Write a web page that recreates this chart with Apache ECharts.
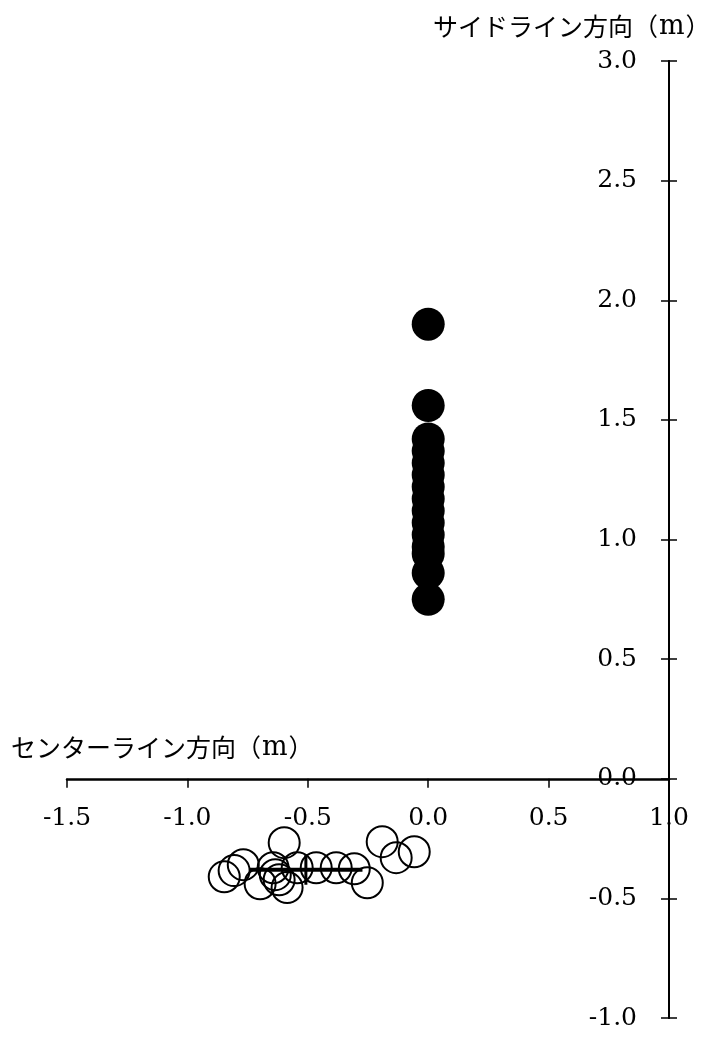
<!DOCTYPE html>
<html>
<head>
<meta charset="utf-8">
<script src="https://cdn.jsdelivr.net/npm/echarts@6/dist/echarts.min.js"></script>
<style>
  html, body { margin: 0; padding: 0; background: #fff; }
  #chart { width: 701px; height: 1039px; }
</style>
</head>
<body>
<div id="chart"></div>
<script>
// Landing positions along the sideline direction (filled circles)
const sidelineX = [0.0, 0.0, 0.0, 0.0, 0.0, 0.0, 0.0, 0.0, 0.0, 0.0, 0.0, 0.0, 0.0, 0.0, 0.0];
const sidelineY = [1.90, 1.56, 1.42, 1.37, 1.32, 1.27, 1.22, 1.17, 1.12, 1.07, 1.02, 0.97, 0.94, 0.86, 0.75];

// Landing positions along the centerline direction (open circles)
const centerX = [-0.847, -0.806, -0.768, -0.698, -0.598, -0.644, -0.635, -0.619, -0.586,
                 -0.544, -0.465, -0.382, -0.307, -0.253, -0.191, -0.133, -0.058];
const centerY = [-0.410, -0.384, -0.359, -0.439, -0.267, -0.372, -0.401, -0.422, -0.455,
                 -0.372, -0.372, -0.372, -0.376, -0.435, -0.263, -0.330, -0.305];

// Mean and standard deviation of the centerline group [x, y]
const centerMean = [-0.508, -0.380];
const centerSD = [0.235, 0.063];

// Axis ranges
const xRange = [-1.5, 1.0];
const yRange = [-1.0, 3.0];
const tickStep = 0.5;

const yTitle = 'サイドライン方向';
const xTitle = 'センターライン方向';
const unitOpen = '（', unitName = 'm', unitClose = '）';

const serif = '"DejaVu Serif", "Liberation Serif", serif';
const sans = '"Noto Sans CJK JP", "Noto Sans", sans-serif';

const zip = (xs, ys) => xs.map((x, i) => [x, ys[i]]);

const gridTop = 61, gridBottom = 21;
const chartHeight = 1039;
const plotHeight = chartHeight - gridTop - gridBottom;
// distance from the bottom edge of the plot up to y = 0, so the x axis sits on the zero line
const zeroLift = plotHeight * (0 - yRange[0]) / (yRange[1] - yRange[0]);

const chart = echarts.init(document.getElementById('chart'), null, { renderer: 'canvas' });

const labelFmt = v => (Math.abs(v) < 1e-9 ? 0 : v).toFixed(1);

const yBase = {
  type: 'value',
  min: yRange[0],
  max: yRange[1],
  interval: tickStep,
  position: 'right',
  splitLine: { show: false },
  axisLine: { show: true, onZero: false, lineStyle: { color: '#000', width: 2 } }
};

const titleRich = {
  k: { fontFamily: sans, fontSize: 25, color: '#000' },
  p: { fontFamily: sans, fontSize: 25, color: '#000' },
  m: { fontFamily: serif, fontSize: 27, color: '#000', padding: [0, 1, 0, 1] }
};
const titleText = name => '{k|' + name + '}{p|' + unitOpen + '}{m|' + unitName + '}{p|' + unitClose + '}';

chart.setOption({
  animation: false,
  backgroundColor: '#fff',
  grid: {
    left: 67, right: 32, top: gridTop, bottom: gridBottom,
    containLabel: false, outerBoundsMode: 'none'
  },
  xAxis: {
    type: 'value',
    min: xRange[0],
    max: xRange[1],
    interval: tickStep,
    position: 'bottom',
    offset: -zeroLift,
    splitLine: { show: false },
    axisLine: { show: true, onZero: false, lineStyle: { color: '#000', width: 2.5 } },
    axisTick: { show: true, inside: false, length: 9, lineStyle: { color: '#000', width: 1.5 } },
    axisLabel: {
      show: true, margin: 27, formatter: labelFmt,
      fontFamily: serif, fontSize: 25, color: '#000'
    }
  },
  yAxis: [
    Object.assign({}, yBase, {
      axisTick: { show: true, inside: true, length: 8, lineStyle: { color: '#000', width: 1.5 } },
      axisLabel: {
        show: true, inside: true, margin: 32, formatter: labelFmt,
        fontFamily: serif, fontSize: 25, color: '#000'
      }
    }),
    Object.assign({}, yBase, {
      axisTick: { show: true, inside: false, length: 8, lineStyle: { color: '#000', width: 1.5 } },
      axisLabel: { show: false }
    })
  ],
  graphic: [
    {
      type: 'text', left: 433, top: 13,
      style: { text: titleText(yTitle), rich: titleRich }
    },
    {
      type: 'text', left: 11, top: 734,
      style: { text: titleText(xTitle), rich: titleRich }
    }
  ],
  series: [
    {
      type: 'scatter',
      yAxisIndex: 0,
      data: zip(centerX, centerY),
      symbol: 'circle',
      symbolSize: 31,
      itemStyle: { color: 'rgba(0,0,0,0)', borderColor: '#000', borderWidth: 2, opacity: 1 },
      z: 3
    },
    {
      // horizontal spread (±1 SD in x)
      type: 'line',
      yAxisIndex: 0,
      data: [
        [centerMean[0] - centerSD[0], centerMean[1]],
        [centerMean[0] + centerSD[0], centerMean[1]]
      ],
      showSymbol: false,
      symbol: 'none',
      lineStyle: { color: '#000', width: 4 },
      z: 4
    },
    {
      // vertical spread (±1 SD in y)
      type: 'line',
      yAxisIndex: 0,
      data: [
        [centerMean[0], centerMean[1] - centerSD[1]],
        [centerMean[0], centerMean[1] + centerSD[1]]
      ],
      showSymbol: false,
      symbol: 'none',
      lineStyle: { color: '#000', width: 3 },
      z: 4
    },
    {
      type: 'scatter',
      yAxisIndex: 0,
      data: zip(sidelineX, sidelineY),
      symbol: 'circle',
      symbolSize: 33,
      itemStyle: { color: '#000', opacity: 1 },
      z: 5
    }
  ]
});
</script>
</body>
</html>
